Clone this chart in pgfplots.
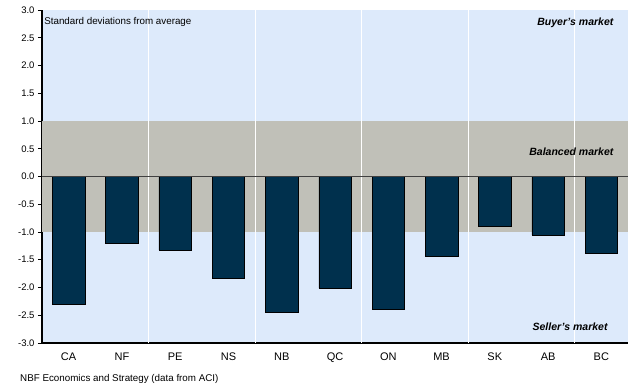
\documentclass[border=0pt]{standalone}
\usepackage{pgfplots}
\pgfplotsset{compat=1.18}
\usepackage{fontspec}
\setmainfont{Liberation Sans}
\definecolor{skybg}{HTML}{DDEAFB}
\definecolor{bandgray}{HTML}{C0C0B8}
\definecolor{barnavy}{HTML}{00304D}
\begin{document}
\begin{tikzpicture}
\begin{axis}[
  scale only axis,
  width=586bp, height=333bp,
  xmin=-0.5, xmax=10.5,
  ymin=-3, ymax=3,
  axis lines=left,
  axis line style={line width=1.2pt, black, -},
  axis background/.style={fill=skybg},
  xtick={0,...,10},
  xticklabels={CA,NF,PE,NS,NB,QC,ON,MB,SK,AB,BC},
  minor xtick={-0.5,0.5,...,10.5},
  xtick style={draw=none},
  minor tick length=4bp,
  minor x tick style={black, line width=0.8pt},
  ytick={-3,-2.5,...,3},
  ytick style={black, line width=0.8pt},
  tick align=outside,
  major tick length=4bp,
  yticklabel style={/pgf/number format/.cd, fixed, fixed zerofill, precision=1, assume math mode=true},
  ticklabel style={font=\fontsize{9.5bp}{11bp}\selectfont},
  xticklabel style={font=\fontsize{11bp}{13bp}\selectfont, yshift=-2bp},
  clip=false,
]
% balanced-market band
\addplot[draw=none, fill=bandgray] coordinates {(-0.5,-1) (10.5,-1) (10.5,1) (-0.5,1)} -- cycle;
% white separators every two provinces
\foreach \xv in {1.5,3.5,5.5,7.5,9.5}{
  \edef\tmp{\noexpand\draw[white, line width=0.9pt] (axis cs:\xv,-3) -- (axis cs:\xv,3);}
  \tmp
}
\addplot[ybar, bar width=0.61, fill=barnavy, draw=black, line width=0.5pt] coordinates {
  (0,-2.30) (1,-1.20) (2,-1.32) (3,-1.83) (4,-2.44) (5,-2.01)
  (6,-2.40) (7,-1.44) (8,-0.90) (9,-1.05) (10,-1.38)
};
\draw[black!75, line width=0.8pt] (axis cs:-0.5,0) -- (axis cs:10.5,0);
\node[anchor=north west, font=\fontsize{9.8bp}{11bp}\selectfont, inner sep=0pt] at (axis cs:-0.46,2.87) {Standard deviations from average};
\node[anchor=north east, font=\fontsize{10.5bp}{12bp}\selectfont\bfseries\itshape, inner sep=0pt] at (axis cs:10.23,2.87) {Buyer's market};
\node[anchor=east, font=\fontsize{10.5bp}{12bp}\selectfont\bfseries\itshape, inner sep=0pt] at (axis cs:10.23,0.45) {Balanced market};
\node[anchor=east, font=\fontsize{10.5bp}{12bp}\selectfont\bfseries\itshape, inner sep=0pt] at (axis cs:10.12,-2.7) {Seller's market};
\end{axis}
\node[anchor=base west, font=\fontsize{9.8bp}{11bp}\selectfont, inner sep=0pt] at ([xshift=-22bp, yshift=-38.5bp]current axis.south west) {NBF Economics and Strategy (data from ACI)};
\useasboundingbox ([xshift=-42bp, yshift=-41bp]current axis.south west) rectangle ([xshift=11bp, yshift=10bp]current axis.north east);
\end{tikzpicture}
\end{document}
